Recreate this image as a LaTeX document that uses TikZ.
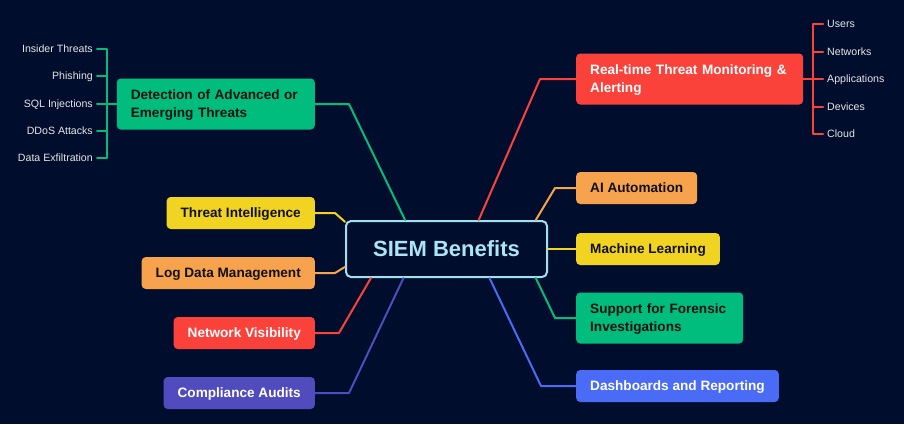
\documentclass[tikz,border=0pt]{standalone}
\usepackage{fontspec}
\setmainfont{Liberation Sans}
\definecolor{bg}{RGB}{1,13,44}
\definecolor{cgreen}{RGB}{0,189,126}
\definecolor{cred}{RGB}{250,66,58}
\definecolor{corange}{RGB}{247,162,77}
\definecolor{cyellow}{RGB}{241,211,34}
\definecolor{cblue}{RGB}{73,107,246}
\definecolor{cpurple}{RGB}{80,76,190}
\definecolor{hubline}{RGB}{160,225,240}
\definecolor{hubtxt}{RGB}{170,230,245}
\definecolor{dark}{RGB}{17,17,17}
\definecolor{leaftxt}{RGB}{230,230,230}
\begin{document}
\begin{tikzpicture}[x=1pt,y=-1pt,line join=round,line cap=round,
	topic/.style={rounded corners=4pt,inner xsep=14pt,inner ysep=0pt,minimum height=32pt,text height=9.7pt,text depth=0pt,font=\fontsize{13.6}{18}\selectfont\bfseries,align=left},
	twoline/.style={text depth=18pt,minimum height=51pt},
	leaf/.style={inner xsep=4pt,inner ysep=0pt,text height=7.6pt,text depth=0pt,text=leaftxt,font=\fontsize{10.6}{12}\selectfont},
	link/.style={line width=2pt}]
	\fill[bg](0,0)rectangle(904,424);
	\node[draw=hubline,line width=2pt,fill=bg,rounded corners=5pt,minimum width=201pt,minimum height=56pt,text height=15.8pt,text depth=0pt,text=hubtxt,font=\fontsize{22}{26}\selectfont\bfseries](hub)at(446.5,249){SIEM Benefits};
	% left side
	\node[topic,twoline,fill=cgreen,text=dark,text width=170pt,anchor=east](det)at(315,104){Detection of Advanced or\\Emerging Threats};
	\draw[link,cgreen](det.east)--++(34,0)--(hub.145);
	\foreach \n/\y/\c/\f/\t/\d/\a in {ti/213/cyellow/dark/Threat Intelligence/20/165,ld/273/corange/dark/Log Data Management/20/190,nv/333/cred/white/Network Visibility/24/201,ca/393/cpurple/white/Compliance Audits/34/214}{
		\node[topic,fill=\c,text=\f,anchor=east](\n)at(315,\y){\t};
		\draw[link,\c](\n.east)--++(\d,0)--(hub.\a);}
	% right side
	\node[topic,twoline,fill=cred,text=white,text width=199pt,anchor=west](rt)at(576,79){Real-time Threat Monitoring \&\\Alerting};
	\draw[link,cred](rt.west)--++(-36,0)--(hub.42);
	\node[topic,twoline,fill=cgreen,text=dark,text width=139pt,anchor=west](sf)at(576,318){Support for Forensic\\Investigations};
	\draw[link,cgreen](sf.west)--++(-21,0)--(hub.342);
	\foreach \n/\y/\c/\f/\t/\d/\a in {ai/188/corange/dark/AI Automation/21/18,ml/249/cyellow/dark/Machine Learning/0/0,db/386/cblue/white/Dashboards and Reporting/35/326}{
		\node[topic,fill=\c,text=\f,anchor=west](\n)at(576,\y){\t};
		\draw[link,\c](\n.west)--++(-\d,0)--(hub.\a);}
	% leaves
	\path(det.west)++(-10,0)coordinate(lb);
	\foreach \t/\y[count=\i] in {Insider Threats/49,Phishing/76,SQL Injections/104,DDoS Attacks/131,Data Exfiltration/158}
	\node[leaf,anchor=east](il\i)at(97,\y){\t};
	\draw[link,cgreen](det.west)--(lb)(il1.east)--(il1.east-|lb)--(il5.east-|lb)--(il5.east);
	\foreach \i in {2,3,4}\draw[link,cgreen](il\i.east)--(il\i.east-|lb);
	\path(rt.east)++(10,0)coordinate(rb);
	\foreach \t/\y[count=\i] in {Users/24,Networks/52,Applications/79,Devices/107,Cloud/134}
	\node[leaf,anchor=west](ol\i)at(823,\y){\t};
	\draw[link,cred](rt.east)--(rb)(ol1.west)--(ol1.west-|rb)--(ol5.west-|rb)--(ol5.west);
	\foreach \i in {2,3,4}\draw[link,cred](ol\i.west)--(ol\i.west-|rb);
\end{tikzpicture}
\end{document}
